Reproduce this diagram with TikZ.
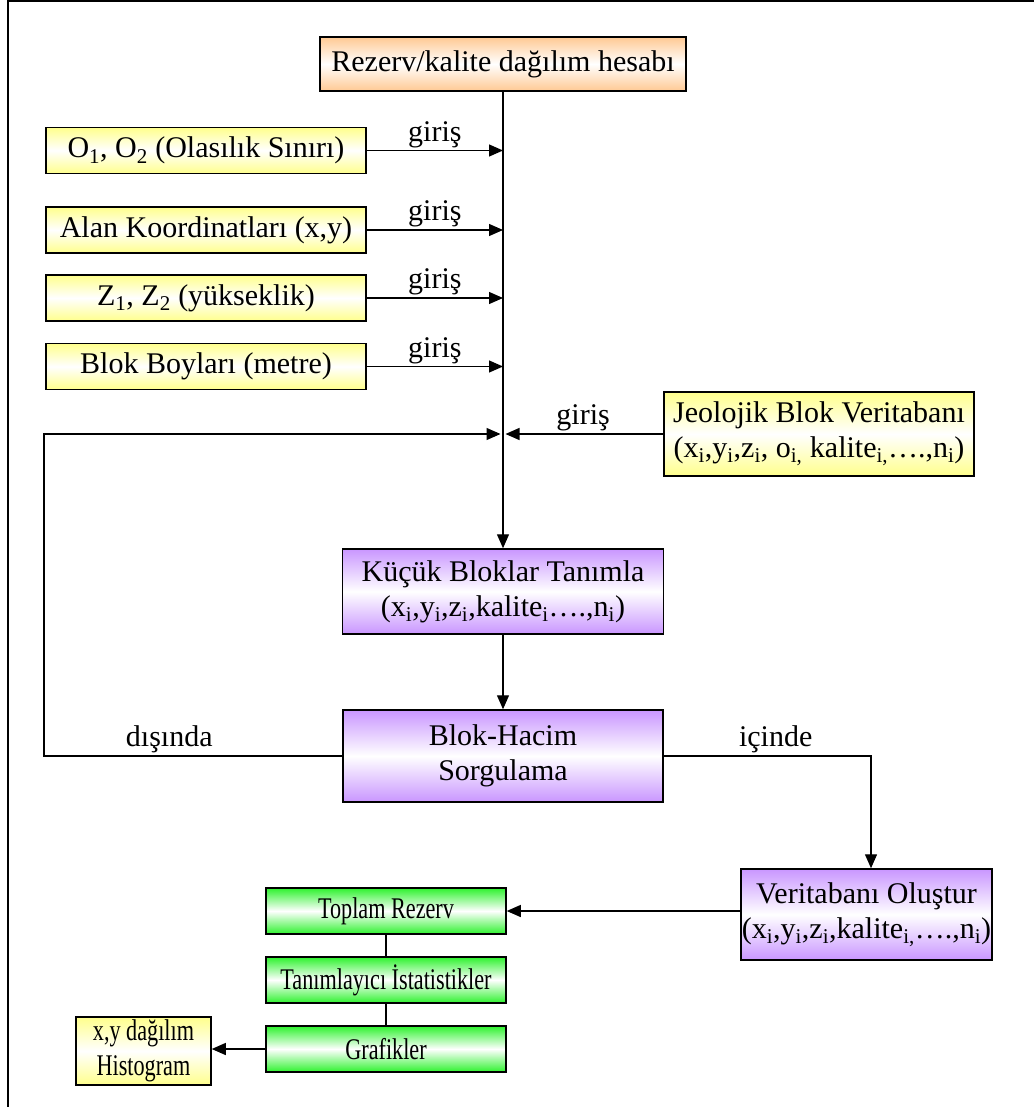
\documentclass[tikz,border=0pt]{standalone}
\usepackage{fontspec}
\setmainfont{Liberation Serif}
\usepackage{graphicx}
\usepackage{xcolor}
\usetikzlibrary{arrows.meta, positioning}

\definecolor{peach}{HTML}{FFC993}
\definecolor{lightyellow}{HTML}{FFFF8C}
\definecolor{lilac}{HTML}{C996FF}
\definecolor{brightgreen}{HTML}{2EF22E}
\newcommand{\squeeze}[1]{\scalebox{0.74}[1]{#1}}

\begin{document}
\begin{tikzpicture}[x=1pt, y=-1pt,
    font=\fontsize{30}{35}\selectfont,
    fillbox/.style={draw, line width=1.5pt, inner sep=0pt, align=center,
        top color=#1, bottom color=#1, middle color=white},
    headbox/.style={fillbox=peach},
    inbox/.style={fillbox=lightyellow},
    procbox/.style={fillbox=lilac},
    outbox/.style={fillbox=brightgreen, minimum width=240pt, minimum height=46pt},
    arr/.style={-{Triangle[length=14pt,width=12pt]}, line width=1.3pt},
    lbl/.style={above, inner sep=2pt}]
    \useasboundingbox (0,0) rectangle (1033,1107);
    \draw[line width=2pt] (8,1108) -- (8,1) -- (1034,1);

    \node[headbox, minimum width=366pt, minimum height=54pt] (rez) at (503,64) {Rezerv/kalite dağılım hesabı};

    \foreach \n/\y/\t in {o12/150.5/{O\textsubscript{1}, O\textsubscript{2} (Olasılık Sınırı)},
                          alan/230/{Alan Koordinatları (x,y)},
                          z12/298/{Z\textsubscript{1}, Z\textsubscript{2} (yükseklik)},
                          blok/366.5/{Blok Boyları (metre)}} {
        \node[inbox, minimum width=320pt, minimum height=46pt] (\n) at (206,\y) {\t};
        \draw[arr] (\n.east) -- node[lbl] {giriş} (\n.east -| rez.south);
    }

    \node[inbox, minimum width=310pt, minimum height=84pt] (jeo) at (819,434)
        {Jeolojik Blok Veritabanı\\(x\textsubscript{i},y\textsubscript{i},z\textsubscript{i}, o\textsubscript{i,} kalite\textsubscript{i,}….,n\textsubscript{i})};
    \node[procbox, minimum width=321pt, minimum height=85pt] (kucuk) at (503,591.5)
        {Küçük Bloklar Tanımla\\(x\textsubscript{i},y\textsubscript{i},z\textsubscript{i},kalite\textsubscript{i}….,n\textsubscript{i})};
    \node[procbox, minimum width=320pt, minimum height=92pt] (hacim) at (503,756) {Blok-Hacim\\Sorgulama};
    \node[procbox, minimum width=251pt, minimum height=91pt] (veri) at (866.5,914.5)
        {Veritabanı Oluştur\\(x\textsubscript{i},y\textsubscript{i},z\textsubscript{i},kalite\textsubscript{i,}….,n\textsubscript{i})};

    \node[outbox] (toplam) at (386,911) {\squeeze{Toplam Rezerv}};
    \node[outbox] (tanim) at (386,980) {\squeeze{Tanımlayıcı İstatistikler}};
    \node[outbox] (graf) at (386,1049) {\squeeze{Grafikler}};
    \node[inbox, minimum width=135pt, minimum height=68pt] (hist) at (143.5,1051)
        {\squeeze{x,y dağılım}\\\squeeze{Histogram}};

    \coordinate (dl) at (44,0);
    \coordinate (ic) at (871,0);

    \draw[arr] (rez.south) -- (kucuk.north);
    \draw[arr, shorten >=2.5pt] (jeo.west) -- node[lbl] {giriş} (jeo.west -| rez.south);
    \draw[arr, shorten >=2.5pt] (hacim.west) -- node[lbl, pos=0.58] {dışında} (hacim.west -| dl)
        |- (jeo.west -| rez.south);
    \draw[arr] (kucuk.south) -- (hacim.north);
    \draw[arr] (hacim.east) -- node[lbl, pos=0.54] {içinde} (hacim.east -| ic) -- (ic |- veri.north);
    \draw[arr] (veri.west |- toplam) -- (toplam.east);
    \draw[line width=1.3pt] (toplam.south) -- (tanim.north);
    \draw[line width=1.3pt] (tanim.south) -- (graf.north);
    \draw[arr] (graf.west) -- (graf.west -| hist.east);
\end{tikzpicture}
\end{document}
